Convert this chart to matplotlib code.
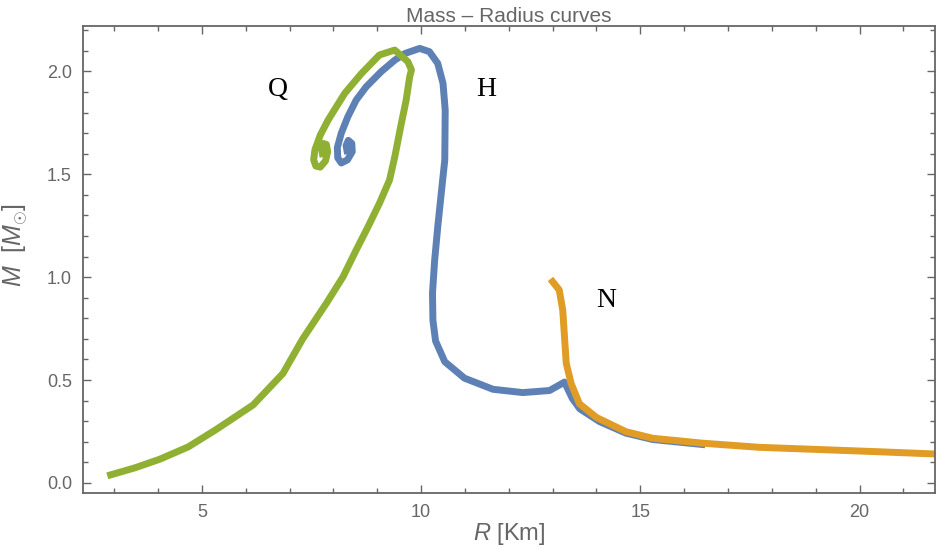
import matplotlib.pyplot as plt
from matplotlib.ticker import MultipleLocator

# mass-radius data, R in km, M in solar masses
# hadronic (H), ordered from the low-mass end
h_r = [16.40, 15.28, 14.67, 14.07, 13.62, 13.45, 13.27, 12.93, 12.32, 11.64,
       10.99, 10.54, 10.33, 10.27, 10.26, 10.31, 10.38, 10.46, 10.54, 10.55,
       10.50, 10.38, 10.19, 9.97, 9.64, 9.40, 9.09, 8.75, 8.52, 8.33, 8.18,
       8.09, 8.10, 8.18, 8.32, 8.43, 8.42, 8.34, 8.29, 8.31]
h_m = [0.187, 0.211, 0.242, 0.298, 0.36, 0.41, 0.49, 0.449, 0.439, 0.455,
       0.509, 0.589, 0.69, 0.79, 0.922, 1.084, 1.245, 1.408, 1.569, 1.812,
       1.942, 2.039, 2.096, 2.112, 2.088, 2.055, 1.999, 1.926, 1.861, 1.78,
       1.70, 1.63, 1.58, 1.555, 1.57, 1.61, 1.65, 1.665, 1.64, 1.615]

# nucleonic (N)
n_r = [13.00, 13.15, 13.23, 13.27, 13.31, 13.42, 13.61, 14.00, 14.67, 15.28,
       16.42, 17.71, 18.85, 20.37, 21.66]
n_m = [0.978, 0.938, 0.841, 0.711, 0.582, 0.484, 0.385, 0.318, 0.249, 0.217,
       0.193, 0.173, 0.164, 0.152, 0.141]

# quark star (Q)
q_r = [2.92, 3.47, 4.04, 4.69, 5.33, 6.17, 6.85, 7.30, 7.84, 8.22, 8.52,
       8.79, 9.05, 9.28, 9.40, 9.55, 9.66, 9.74, 9.78, 9.70, 9.40, 9.05,
       8.64, 8.26, 7.88, 7.70, 7.58, 7.55, 7.60, 7.70, 7.82, 7.87, 7.84,
       7.77, 7.73, 7.75]
q_m = [0.039, 0.073, 0.115, 0.175, 0.26, 0.379, 0.532, 0.70, 0.873, 1.002,
       1.132, 1.245, 1.359, 1.472, 1.585, 1.748, 1.861, 1.974, 2.007, 2.047,
       2.104, 2.08, 1.99, 1.894, 1.764, 1.69, 1.62, 1.57, 1.54, 1.535,
       1.565, 1.61, 1.645, 1.65, 1.625, 1.60]

curve_labels = ['Q', 'H', 'N']
label_r = [6.73, 11.49, 14.22]
label_m = [1.91, 1.91, 0.889]

plt.rcParams['font.family'] = ['Liberation Sans', 'DejaVu Sans']
plt.rcParams['mathtext.fontset'] = 'custom'
plt.rcParams['mathtext.rm'] = 'Liberation Sans'
plt.rcParams['mathtext.it'] = 'Liberation Sans:italic'

gray = '#666666'

fig = plt.figure(figsize=(9.4, 5.48), dpi=100)
ax = fig.add_axes([0.0883, 0.1004, 0.9064, 0.8522])

ax.plot(h_r, h_m, color='#5E81B5', lw=5)
ax.plot(n_r, n_m, color='#E09C24', lw=5)
ax.plot(q_r, q_m, color='#8FB032', lw=5)

for t, r, m in zip(curve_labels, label_r, label_m):
    ax.text(r, m, t, family='Liberation Serif', fontsize=20,
            ha='center', va='center', color='black')

ax.set_xlim(2.29, 21.72)
ax.set_ylim(-0.049, 2.221)

ax.xaxis.set_major_locator(MultipleLocator(5))
ax.xaxis.set_minor_locator(MultipleLocator(1))
ax.yaxis.set_major_locator(MultipleLocator(0.5))
ax.yaxis.set_minor_locator(MultipleLocator(0.1))
ax.xaxis.set_major_formatter(lambda v, p: '%d' % v)
ax.yaxis.set_major_formatter(lambda v, p: '%.1f' % v)

ax.tick_params(which='both', direction='in', top=True, right=True,
               color=gray, labelcolor=gray, labelsize=13, width=1)
ax.tick_params(which='major', length=6, pad=8)
ax.tick_params(which='minor', length=3.5)
for s in ax.spines.values():
    s.set_color(gray)
    s.set_linewidth(1.3)

ax.set_xlabel(r'$R$ [Km]', fontsize=17, color=gray, labelpad=0)
ax.set_ylabel(r'$M$  [$M_{\odot}$]', fontsize=18, color=gray)
ax.yaxis.set_label_coords(-0.062, 0.53)
ax.set_title('Mass \u2013 Radius curves', fontsize=15, color=gray, pad=1)

fig.savefig('out.png', dpi=100)
